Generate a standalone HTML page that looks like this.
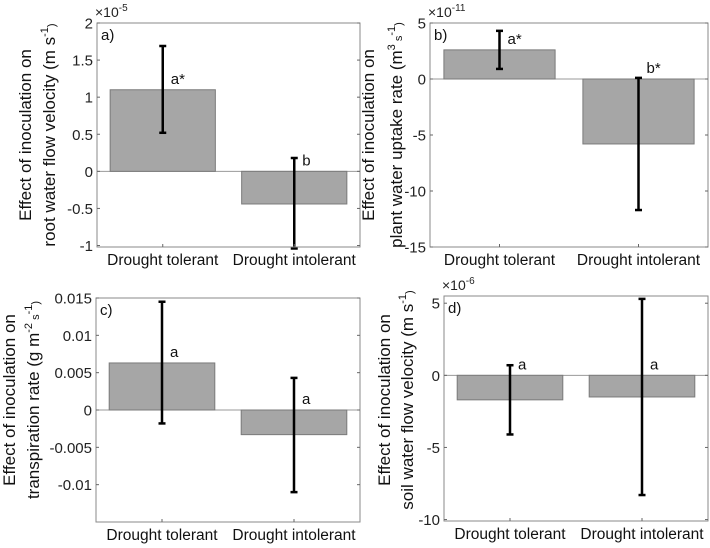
<!DOCTYPE html>
<html><head><meta charset="utf-8"><style>
body{margin:0;background:#fff}
svg{display:block;font-family:"Liberation Sans",Arial,sans-serif}
</style></head><body>
<svg id="fig" width="710" height="548" viewBox="0 0 710 548"></svg>
<script>
const categories = ["Drought tolerant", "Drought intolerant"];
const aValues = [1.1, -0.44];
const aErrLow = [0.52, -1.04];
const aErrHigh = [1.69, 0.18];
const aLetters = ["a*", "b"];
const aTicks = [-1, -0.5, 0, 0.5, 1, 1.5, 2];
const aTickLabels = ["-1", "-0.5", "0", "0.5", "1", "1.5", "2"];
const bValues = [2.6, -5.8];
const bErrLow = [0.9, -11.7];
const bErrHigh = [4.3, 0.1];
const bLetters = ["a*", "b*"];
const bTicks = [-15, -10, -5, 0, 5];
const bTickLabels = ["-15", "-10", "-5", "0", "5"];
const cValues = [0.0063, -0.0033];
const cErrLow = [-0.0018, -0.011];
const cErrHigh = [0.0145, 0.0043];
const cLetters = ["a", "a"];
const cTicks = [-0.01, -0.005, 0, 0.005, 0.01, 0.015];
const cTickLabels = ["-0.01", "-0.005", "0", "0.005", "0.01", "0.015"];
const dValues = [-1.7, -1.5];
const dErrLow = [-4.1, -8.3];
const dErrHigh = [0.7, 5.3];
const dLetters = ["a", "a"];
const dTicks = [-10, -5, 0, 5];
const dTickLabels = ["-10", "-5", "0", "5"];

const NS = "http://www.w3.org/2000/svg";
const svg = document.getElementById("fig");
function mk(tag, attrs, parent, text){
  const e = document.createElementNS(NS, tag);
  for (const k in attrs) e.setAttribute(k, attrs[k]);
  if (text !== undefined) e.textContent = text;
  (parent || svg).appendChild(e);
  return e;
}
function panel(p){
  const g = mk("g", {});
  
  
  const y = v => p.y1 - (v - p.ymin) / (p.ymax - p.ymin) * (p.y1 - p.y0);
  const xc = i => p.x0 + (p.x1 - p.x0) * (i === 0 ? 0.25 : 0.75);
  const bw = (p.x1 - p.x0) * 0.4;
  const zl = mk("line", {x1:p.x0, x2:p.x1, y1:y(0), y2:y(0), stroke:"#999", "stroke-width":1}, g);
  
  
  p.values.forEach((v, i) => {
    const r = mk("rect", {x:xc(i)-bw/2, y:Math.min(y(v), y(0)), width:bw, height:Math.abs(y(v)-y(0)), fill:"#a6a6a6", stroke:"#7a7a7a", "stroke-width":1}, g);
    
    
  });
  p.lo.forEach((lo, i) => {
    const hi = p.hi[i], x = xc(i);
    const eg = mk("g", {stroke:"#000", "stroke-width":2.5}, g);
    
    
    mk("line", {x1:x, x2:x, y1:y(lo), y2:y(hi)}, eg);
    mk("line", {x1:x-3.5, x2:x+3.5, y1:y(lo), y2:y(lo)}, eg);
    mk("line", {x1:x-3.5, x2:x+3.5, y1:y(hi), y2:y(hi)}, eg);
    const t = mk("text", {x:x+8, y:y(Math.max(p.values[i], 0)) - 6, "font-size":15, fill:"#111"}, g, p.letters[i]);
    
    
  });
  const box = mk("rect", {x:p.x0, y:p.y0, width:p.x1-p.x0, height:p.y1-p.y0, fill:"none", stroke:"#8a8a8a", "stroke-width":1}, g);
  
  
  p.ticks.forEach((tv, i) => {
    const ty = y(tv);
    mk("line", {x1:p.x0, x2:p.x0+3, y1:ty, y2:ty, stroke:"#666"}, g);
    mk("line", {x1:p.x1, x2:p.x1-3, y1:ty, y2:ty, stroke:"#666"}, g);
    const t = mk("text", {x:p.x0-4, y:ty+5.5, "text-anchor":"end", "font-size":15, fill:"#222"}, g, p.tickLabels[i]);
    
    
  });
  categories.forEach((c, i) => {
    mk("line", {x1:xc(i), x2:xc(i), y1:p.y1, y2:p.y1-3, stroke:"#666"}, g);
    const t = mk("text", {x:xc(i), y:p.y1+18, "text-anchor":"middle", "font-size":15.5, fill:"#111"}, g, c);
    
    
  });
  const pl = mk("text", {x:p.x0+4, y:p.y0+17, "font-size":15, fill:"#111"}, g, p.id + ")");
  
  
  if (p.exp) {
    const ex = mk("text", {x:p.x0-2, y:p.y0-6, "font-size":14, fill:"#222"}, g);
    
    
    mk("tspan", {}, ex, "×10");
    mk("tspan", {dy:-6, "font-size":10}, ex, p.exp);
  }
  const yl = mk("text", {transform:`translate(${p.lx},${p.ly}) rotate(-90)`, "text-anchor":"middle", "font-size":17, fill:"#111"}, g);
  
  
  mk("tspan", {x:0, dy:0}, yl, p.l1);
  const t2 = mk("tspan", {x:0, dy:p.gap}, yl);
  p.l2.forEach(s => { if (typeof s === "string") mk("tspan", {}, t2, s); else mk("tspan", {dy:s.dy, "font-size":11}, t2, s.t); });
}
panel({id:"a", x0:97, x1:360, y0:23, y1:247, ymin:-1.02, ymax:2, values:aValues, lo:aErrLow, hi:aErrHigh, letters:aLetters, ticks:aTicks, tickLabels:aTickLabels, exp:"-5", lx:31, ly:135, gap:24,
  l1:"Effect of inoculation on", l2:["root water flow velocity (m s",{t:"-1",dy:-7},{t:")",dy:7}]});
panel({id:"b", x0:430, x1:708, y0:23, y1:247, ymin:-15, ymax:5, values:bValues, lo:bErrLow, hi:bErrHigh, letters:bLetters, ticks:bTicks, tickLabels:bTickLabels, exp:"-11", lx:374, ly:135, gap:28,
  l1:"Effect of inoculation on", l2:["plant water uptake rate (m",{t:"3",dy:-7},{t:" s",dy:7},{t:"-1",dy:-7},{t:")",dy:7}]});
panel({id:"c", x0:96, x1:360, y0:298, y1:522, ymin:-0.015, ymax:0.015, values:cValues, lo:cErrLow, hi:cErrHigh, letters:cLetters, ticks:cTicks, tickLabels:cTickLabels, exp:null, lx:15, ly:400, gap:24,
  l1:"Effect of inoculation on", l2:["transpiration rate (g m",{t:"-2",dy:-7},{t:" s",dy:7},{t:"-1",dy:-7},{t:")",dy:7}]});
panel({id:"d", x0:444, x1:708, y0:296, y1:521, ymin:-10.1, ymax:5.5, values:dValues, lo:dErrLow, hi:dErrHigh, letters:dLetters, ticks:dTicks, tickLabels:dTickLabels, exp:"-6", lx:390, ly:400, gap:23,
  l1:"Effect of inoculation on", l2:["soil water flow velocity (m s",{t:"-1",dy:-7},{t:")",dy:7}]});
</script>
</body></html>
